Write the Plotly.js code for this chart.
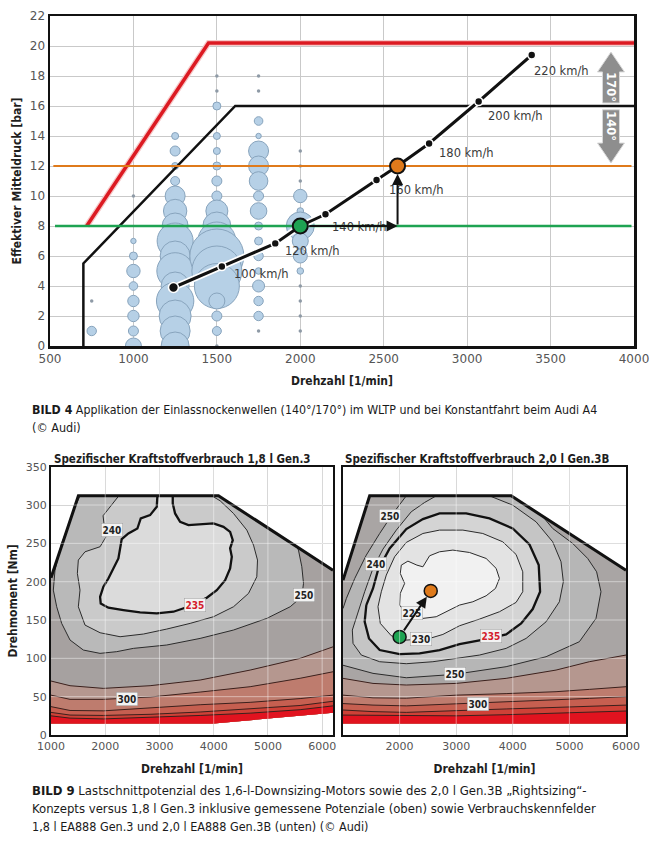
<!DOCTYPE html>
<html><head><meta charset="utf-8">
<script src="https://cdn.plot.ly/plotly-3.0.1.min.js"></script>
<style>html,body{margin:0;padding:0;background:#fff;}#chart{width:654px;height:844px;}</style>
</head><body><div id="chart"></div>
<script>
// ================= BILD 4 data =================
const bubbleRpm  = [750,
  1000,1000,1000,1000,1000,1000,1000,1000,
  1250,1250,1250,1250,1250,1250,1250,1250,1250,1250,1250,1250,1250,1250,1250,
  1500,1500,1500,1500,1500,1500,1500,1500,1500,1500,1500,1500,1500,1500,1500,
  1750,1750,1750,1750,1750,1750,1750,1750,1750,1750,1750,1750,1750,1750,
  2000,2000,2000,2000,2000,2000];
const bubbleBmep = [1,
  7,6,5,4,3,2,1,0,
  14,13,12,11,10,9,8,7,6,5,4,3,2,1,0,
  16,14,13,12,11,10,9,8,7,6,5,4,3,2,1,
  15,14,13,12,11,10,9,8,7,6,5,4,3,2,
  10,9,8,7,6,5];
const bubbleShare = [4.7,
  2.7,4,6.7,4.3,5.7,5.7,5,8,
  3.5,5,3.5,4.5,10,11.7,13,18,15,18.3,14,18.7,16,15,14,
  4,3.5,3.5,4,5,5,11,14,19,27,25,22.5,8,5,4.5,
  4.3,2.7,10,10,9.3,5,8.3,4,4,4.7,3.3,6,4.7,4.7,
  6.7,3.3,14,8,7,3.3];
const rareRpm  = [750,1000,1500,1500,1500,1750,1750,1750,2000,2000,2000,2000,2000,2000,2000];
const rareBmep = [3,10,18,17,0,18,17,1,13,12,11,4,3,2,1];

const fullLoad20Rpm  = [720,1450,4000];
const fullLoad20Bmep = [8,20.2,20.2];
const fullLoad18Rpm  = [700,700,1610,4000];
const fullLoad18Bmep = [0,5.5,16,16];
const camLimit170Rpm = [520,3985];
const camLimit170Bmep = [12,12];
const camLimit140Rpm = [530,3985];
const camLimit140Bmep = [8,8];

const roadLoadRpm  = [1240,1530,1850,2000,2151,2457,2583,2772,3069,3387];
const roadLoadBmep = [3.9,5.3,6.84,8,8.78,11.07,12,13.5,16.3,19.4];
const speedRpm  = [1530,2000,2151,2457,2772,3069,3387];
const speedBmep = [5.3,8,8.78,11.07,13.5,16.3,19.4];
const speedText = ['100 km/h','120 km/h','140 km/h','160 km/h','180 km/h','200 km/h','220 km/h'];
const pointGreen  = {rpm:2000, bmep:8};
const pointOrange = {rpm:2583, bmep:12};

// ================= BILD 9 data: 1,8 l Gen.3 =================
const g3FullRpm = [1000,1505,4088,6200];
const g3FullNm  = [205,312,312,215];
const g3MinRpm  = [1000,4000,6200];
const g3MinNm   = [15,15,29];
const g3c250Rpm = [1535,1443,1381,1289,1197,1135,1074,1043,1105,1197,1351,1597,1904,2212,2519,3134,3749,4364,4979,5410,5625,5656,5625,5563,5533];
const g3c250Nm  = [312,297.7,284.7,267.3,250,232.5,215.1,189,167.3,145.6,123.9,110.8,106.5,108.7,113,117.4,126,136.9,152.1,167.3,180.4,197.8,219.5,241.2,245.6];
const g3c240Rpm = [2250,2120,1960,1985,2015,1905,1627,1504,1486,1535,1504,1627,1905,2274,2704,3135,3566,3996,4365,4642,4795,4808,4734,4611,4365,4119,3965];
const g3c240Nm  = [312,300,286,271.6,258.6,245.6,239,228.2,210.8,189,167.3,143.4,133.4,128.2,131.7,138.2,145.6,154.3,167.3,184.7,206.4,228.2,247.7,267.3,289,305.5,312];
const g3c235Rpm = [2962,2950,2827,2655,2593,2427,2304,2274,2243,2150,2058,1966,1905,1917,2058,2335,2643,2950,3258,3473,3688,3873,4057,4211,4303,4334,4303,4352,4303,4180,3996,3750,3534,3381,3288,3245,3245];
const g3c235Nm  = [312,297.7,286.8,282.5,269.4,262.9,255.5,243.4,230.3,217.3,204.2,193.4,180.3,171.6,166,163,160,158.6,160.8,166,173,179,189,202,217.3,232.5,243.4,254.2,265,271.6,276,274.6,273.8,278,289,302,312];
const g3BandRpm = [1000,1351,1966,2827,3750,4672,5594,6200];
const g3Band260 = [70.4,64.3,60.8,64.3,71.7,84.7,100,115];
const g3Band300 = [52,46.5,46.5,49.5,56,63,74,82.5];
const g3Band350 = [37,32,31.5,35.5,39.5,42.6,47.5,52];
const g3Band400 = [29.5,26,25.5,27,30,34,38.5,44];
const g3Band500 = [25,22,21,23,25.5,28.5,33,38];

// ================= BILD 9 data: 2,0 l Gen.3B =================
const g3bFullRpm = [1000,1471,3971,6000];
const g3bFullNm  = [202,312,312,215];
const g3bMinRpm  = [1000,6000];
const g3bMinNm   = [15,15];
const g3bc250UpperRpm = [2118,1883,1648,1412,1207,1060,1000];
const g3bc250UpperNm  = [312,289,262.9,234.7,204.2,178.2,165];
const g3bc250LowerRpm = [1000,1530,2118,2971,3882,4588,5176,5470,5558,5481,5323,5058,4705,4529];
const g3bc250LowerNm  = [91,80.4,74.7,79.1,89.1,102.1,121.7,152.1,186.9,212.9,230.3,249.9,269.4,285];
const g3bc240Rpm = [2647,2441,2206,1942,1706,1530,1383,1265,1165,1177,1324,1648,2118,2588,2999,3412,3882,4235,4588,4823,4893,4852,4705,4411,4000,3588];
const g3bc240Nm  = [312,303.3,291.2,267.3,242.5,217.3,186.9,160.8,136.9,119.5,104.3,95.6,93,95.6,100,104.3,113,126,147.7,173.8,199.9,226,252,278.1,299.8,312];
const g3bc235Rpm = [1412,1530,1618,1824,2118,2412,2706,3176,3588,3999,4294,4458,4482,4352,4147,3882,3529,3059,2706,2353,2000,1648,1459,1383,1412];
const g3bc235Nm  = [169.5,191.2,215.1,243.4,268.6,281.6,289,289,282.5,269.4,248.6,221.6,186.9,164.3,145.6,131.2,125.1,118.6,110.8,106.5,105.6,110.8,126,147.7,169.5];
const g3bc230Rpm = [1677,1765,1912,2118,2412,2706,3118,3470,3823,4058,4176,4176,4058,3764,3412,3059,2765,2530,2118,1853,1659,1618,1677];
const g3bc230Nm  = [186.9,208.6,232.5,251.2,262.9,267.3,267.3,262.9,252,235.5,212.9,186.9,173,160.8,151.2,142.5,131.2,126,123.8,129.5,145.6,167.3,186.9];
const g3bc225Rpm = [2030,2147,2306,2412,2530,2706,2941,3235,3529,3706,3764,3694,3529,3294,3059,2824,2647,2412,2294,2089,2000,2012,2089,2012,2030];
const g3bc225Nm  = [221.6,226.8,221.6,219.4,233.8,239,241.2,238.1,230.3,217.3,204.2,191.2,181.6,173.8,169.5,160.8,154.3,152.1,157.3,160.8,169.5,184.7,197.7,210.8,221.6];
const g3bBandRpm = [1000,1530,2118,3000,3882,4764,5352,6000];
const g3bBand260 = [73.9,67.3,65.2,67.3,73.9,84.7,95.6,104.3];
const g3bBand300 = [52,48.5,48,52,54,56.5,59.5,63];
const g3bBand350 = [41,39,38,40.5,43,45.8,47.8,50];
const g3bBand400 = [32.6,30.5,29.5,32,34,36,37.5,39];
const g3bBand500 = [26,25.5,25,25,26.5,28.5,30,31.3];
const g3bGreen  = {rpm:2000, nm:128};
const g3bOrange = {rpm:2550, nm:188};

const xTicksTop = [500,1000,1500,2000,2500,3000,3500,4000];
const yTicksTop = [0,2,4,6,8,10,12,14,16,18,20,22];
const xTicksMap = [1000,2000,3000,4000,5000,6000];
const yTicksMap = [0,50,100,150,200,250,300,350];

// ================= styles =================
const NARROW = 'Liberation Sans Narrow, Arial Narrow, DejaVu Sans Condensed, sans-serif';
const TICKF = 'DejaVu Sans, Verdana, sans-serif';
const W = 654, H = 844;
const px = v => v / W, py = v => 1 - v / H;

const traces = [];
function add(t){ t.hoverinfo = 'skip'; t.showlegend = false; traces.push(t); }
function poly(xa, ya, ax, color){
  add({type:'scatter', mode:'lines', x:xa, y:ya, xaxis:ax[0], yaxis:ax[1], fill:'toself', fillcolor:color, line:{width:0}});
}
function line(xa, ya, ax, color, width){
  add({type:'scatter', mode:'lines', x:xa, y:ya, xaxis:ax[0], yaxis:ax[1], line:{color:color, width:width}, connectgaps:false});
}

// ---------- top chart ----------
const T = ['x','y'];
add({type:'scatter', mode:'markers', x:bubbleRpm, y:bubbleBmep, xaxis:'x', yaxis:'y',
  marker:{size:bubbleShare, sizemode:'diameter', sizeref:0.5, opacity:1, color:'#b6d0e6', line:{color:'#88a4bd', width:1}}});
add({type:'scatter', mode:'markers', x:rareRpm, y:rareBmep, xaxis:'x', yaxis:'y',
  marker:{size:3.5, opacity:1, color:'#8e9aa6'}});
line(fullLoad20Rpm, fullLoad20Bmep, T, '#f6c9c9', 6);
line(fullLoad20Rpm, fullLoad20Bmep, T, '#dc1a22', 3.5);
line(fullLoad18Rpm, fullLoad18Bmep, T, '#111111', 2.5);
line(camLimit170Rpm, camLimit170Bmep, T, '#df7a1b', 2);
line(camLimit140Rpm, camLimit140Bmep, T, '#1ea352', 2.5);
line(roadLoadRpm, roadLoadBmep, T, '#ffffff', 6.5);
line(roadLoadRpm, roadLoadBmep, T, '#111111', 3);
add({type:'scatter', mode:'markers', x:[roadLoadRpm[0], roadLoadRpm[2]].concat(speedRpm), y:[roadLoadBmep[0], roadLoadBmep[2]].concat(speedBmep), xaxis:'x', yaxis:'y',
  marker:{size:[10,8,8,8,8,8,8,8,8], opacity:1, color:'#111', line:{color:'#fff', width:1.6}}});
add({type:'scatter', mode:'markers', x:[pointGreen.rpm], y:[pointGreen.bmep], xaxis:'x', yaxis:'y',
  marker:{size:15, color:'#1ea352', line:{color:'#111', width:2}}});
add({type:'scatter', mode:'markers', x:[pointOrange.rpm], y:[pointOrange.bmep], xaxis:'x', yaxis:'y',
  marker:{size:15, color:'#df7a1b', line:{color:'#111', width:2}}});

// ---------- helper for maps ----------
function bandPoly(bx, by, minRpm, minNm){
  const xs = bx.slice(), ys = by.slice();
  for (let i = minRpm.length - 1; i >= 0; i--) { xs.push(minRpm[i]); ys.push(minNm[i]); }
  return [xs, ys];
}
function drawMap(ax, full, minl, regions, bandX, bands, bandColors, lines235, thinLines){
  const fx = [minl[0][0]].concat(full[0]).concat(minl[0].slice().reverse());
  const fy = [minl[1][0]].concat(full[1]).concat(minl[1].slice().reverse());
  poly(fx, fy, ax, regions.base);
  regions.list.forEach(r => poly(r[0], r[1], ax, r[2]));
  bands.forEach((b, i) => { const p = bandPoly(bandX, b, minl[0], minl[1]); poly(p[0], p[1], ax, bandColors[i]); });
  thinLines.forEach(l => line(l[0], l[1], ax, '#2b2b2b', 1));
  bands.forEach(b => line(bandX, b, ax, '#3b201c', 1));
  lines235.forEach(l => line(l[0], l[1], ax, '#111', 2.3));
  line(full[0], full[1], ax, '#111', 3);
}

// ---------- left map (1,8 l Gen.3) ----------
const L = ['x2','y2'];
const g3r250x = g3c250Rpm.concat([g3FullRpm[2]]), g3r250y = g3c250Nm.concat([g3FullNm[2]]);
drawMap(L, [g3FullRpm, g3FullNm], [g3MinRpm, g3MinNm],
  {base:'#a6a1a0', list:[[g3r250x, g3r250y, '#b9b9b9'], [g3c240Rpm, g3c240Nm, '#cacaca'], [g3c235Rpm, g3c235Nm, '#dbdbdb']]},
  g3BandRpm, [g3Band260, g3Band300, g3Band350, g3Band400, g3Band500],
  ['#b5978f','#be7c6e','#c65f50','#ce4137','#e1131f'],
  [[g3c235Rpm, g3c235Nm]],
  [[g3c250Rpm, g3c250Nm], [g3c240Rpm, g3c240Nm]]);

// ---------- right map (2,0 l Gen.3B) ----------
const R = ['x3','y3'];
const g3br250x = g3bc250UpperRpm.concat(g3bc250LowerRpm).concat([g3bFullRpm[2]]);
const g3br250y = g3bc250UpperNm.concat(g3bc250LowerNm).concat([g3bFullNm[2]]);
drawMap(R, [g3bFullRpm, g3bFullNm], [g3bMinRpm, g3bMinNm],
  {base:'#a9a5a4', list:[[g3br250x, g3br250y, '#b6b6b6'], [g3bc240Rpm, g3bc240Nm, '#c5c5c5'], [g3bc235Rpm, g3bc235Nm, '#d4d4d4'], [g3bc230Rpm, g3bc230Nm, '#e3e3e3'], [g3bc225Rpm, g3bc225Nm, '#f1f1f1']]},
  g3bBandRpm, [g3bBand260, g3bBand300, g3bBand350, g3bBand400, g3bBand500],
  ['#b5978f','#be7c6e','#c65f50','#ce4137','#e1131f'],
  [[g3bc235Rpm, g3bc235Nm]],
  [[g3bc250UpperRpm.concat([null]).concat(g3bc250LowerRpm), g3bc250UpperNm.concat([null]).concat(g3bc250LowerNm)],
   [g3bc240Rpm, g3bc240Nm], [g3bc230Rpm, g3bc230Nm], [g3bc225Rpm, g3bc225Nm]]);
add({type:'scatter', mode:'markers', x:[g3bGreen.rpm], y:[g3bGreen.nm], xaxis:'x3', yaxis:'y3',
  marker:{size:13, color:'#1ea352', line:{color:'#111', width:1.5}}});
add({type:'scatter', mode:'markers', x:[g3bOrange.rpm], y:[g3bOrange.nm], xaxis:'x3', yaxis:'y3',
  marker:{size:13, color:'#df7a1b', line:{color:'#111', width:1.5}}});

// ================= layout =================
const annotations = [];
const shapes = [];
function txt(o){ annotations.push(Object.assign({showarrow:false}, o)); }

// speed labels (offsets in px relative to their operating point)
const speedLabelShift = [[10,-7,'left'],[12,-25,'center'],[5,-13,'left'],[10,-10,'left'],[8,-10,'left'],[7,-15,'left'],[0,-16,'left']];
speedText.forEach((t, i) => txt({xref:'x', yref:'y', x:speedRpm[i], y:speedBmep[i], text:t, xanchor:speedLabelShift[i][2],
  xshift:speedLabelShift[i][0], yshift:speedLabelShift[i][1], font:{family:TICKF, size:11.5, color:'#3a3a3a'}}));
// arrows green -> orange
annotations.push({xref:'x', yref:'y', axref:'x', ayref:'y', x:pointOrange.rpm, y:pointGreen.bmep, ax:pointGreen.rpm + 45, ay:pointGreen.bmep,
  showarrow:true, arrowhead:2, arrowsize:1.1, arrowwidth:2, arrowcolor:'#111', standoff:0, text:''});
annotations.push({xref:'x', yref:'y', axref:'x', ayref:'y', x:pointOrange.rpm, y:pointOrange.bmep, ax:pointOrange.rpm, ay:pointGreen.bmep,
  showarrow:true, arrowhead:2, arrowsize:1.1, arrowwidth:2, arrowcolor:'#111', standoff:8, text:''});
// cam angle arrows
const camArrowX = 3862;
function camArrow(y0, yBase, yTip){
  const a = 51, b = 81;
  shapes.push({type:'path', xref:'x', yref:'y', layer:'above',
    path:`M${camArrowX-a},${y0} L${camArrowX-a},${yBase} L${camArrowX-b},${yBase} L${camArrowX},${yTip} L${camArrowX+b},${yBase} L${camArrowX+a},${yBase} L${camArrowX+a},${y0} Z`,
    fillcolor:'#8e8e8e', line:{color:'#d9d9d9', width:1}});
}
camArrow(16.2, 18.27, 19.6);
camArrow(15.75, 13.53, 12.2);
txt({xref:'x', yref:'y', x:camArrowX, y:17.25, text:'<b>170°</b>', textangle:90, font:{family:TICKF, size:11.5, color:'#fff'}});
txt({xref:'x', yref:'y', x:camArrowX, y:14.65, text:'<b>140°</b>', textangle:90, font:{family:TICKF, size:11.5, color:'#fff'}});

// map contour labels
function clabel(ax, x, y, t, red){
  txt({xref:ax[0], yref:ax[1], x:x, y:y, text:'<b>'+t+'</b>', bgcolor:'#f3f3f3', bordercolor:'#9a9a9a', borderwidth:0.5, borderpad:1,
    font:{family:NARROW, size:10, color: red ? '#d3202c' : '#222'}});
}
clabel(L, 2120, 267, '240'); clabel(L, 3657, 170, '235', true); clabel(L, 5656, 182.5, '250'); clabel(L, 2397, 47, '300');
clabel(R, 1824, 286, '250'); clabel(R, 1577, 222.5, '240'); clabel(R, 2224, 158.6, '225'); clabel(R, 2383, 125, '230');
clabel(R, 3617, 129.5, '235', true); clabel(R, 2970, 80, '250'); clabel(R, 3382, 41, '300');
annotations.push({xref:'x3', yref:'y3', axref:'x3', ayref:'y3', x:g3bOrange.rpm, y:g3bOrange.nm, ax:g3bGreen.rpm, ay:g3bGreen.nm,
  showarrow:true, arrowhead:2, arrowsize:1.1, arrowwidth:2, arrowcolor:'#111', standoff:7, startstandoff:6, text:''});

// white grid lines over the filled maps
[[L, [1000,6200]], [R, [1000,6000]]].forEach(([ax, xr]) => {
  xTicksMap.forEach(v => { if (v > xr[0] && v < xr[1]) shapes.push({type:'line', xref:ax[0], yref:ax[1], x0:v, x1:v, y0:0, y1:350, layer:'above', line:{color:'rgba(255,255,255,0.45)', width:1}}); });
  yTicksMap.forEach(v => { if (v > 0 && v < 350) shapes.push({type:'line', xref:ax[0], yref:ax[1], x0:xr[0], x1:xr[1], y0:v, y1:v, layer:'above', line:{color:'rgba(255,255,255,0.45)', width:1}}); });
});

// subplot titles and captions
txt({xref:'paper', yref:'paper', x:px(52), y:py(459), xanchor:'left', yanchor:'middle', text:'<b>Spezifischer Kraftstoffverbrauch 1,8 l Gen.3</b>', font:{family:NARROW, size:11.5, color:'#1e1e1e'}});
txt({xref:'paper', yref:'paper', x:px(343), y:py(459), xanchor:'left', yanchor:'middle', text:'<b>Spezifischer Kraftstoffverbrauch 2,0 l Gen.3B</b>', font:{family:NARROW, size:11.5, color:'#1e1e1e'}});
const capFont = {family:NARROW, size:12.5, color:'#1a1a1a'};
const capFontWide = {family:NARROW, size:13, color:'#1a1a1a'};
txt({xref:'paper', yref:'paper', x:px(30), y:py(410), xanchor:'left', yanchor:'middle', text:'<b>BILD 4</b> Applikation der Einlassnockenwellen (140°/170°) im WLTP und bei Konstantfahrt beim Audi A4', font:{family:NARROW, size:12.3, color:'#1a1a1a'}});
txt({xref:'paper', yref:'paper', x:px(30), y:py(427), xanchor:'left', yanchor:'middle', text:'(© Audi)', font:capFont});
txt({xref:'paper', yref:'paper', x:px(30), y:py(790), xanchor:'left', yanchor:'middle', text:'<b>BILD 9</b> Lastschnittpotenzial des 1,6-l-Downsizing-Motors sowie des 2,0 l Gen.3B „Rightsizing“-', font:capFontWide});
txt({xref:'paper', yref:'paper', x:px(30), y:py(808), xanchor:'left', yanchor:'middle', text:'Konzepts versus 1,8 l Gen.3 inklusive gemessene Potenziale (oben) sowie Verbrauchskennfelder', font:capFontWide});
txt({xref:'paper', yref:'paper', x:px(30), y:py(826), xanchor:'left', yanchor:'middle', text:'1,8 l EA888 Gen.3 und 2,0 l EA888 Gen.3B (unten) (© Audi)', font:capFont});

const titleFont = {family:NARROW, size:12, color:'#1e1e1e', weight:'bold'};
const axBase = {showgrid:true, gridcolor:'#c9c9c9', gridwidth:1, zeroline:false, showline:true, mirror:true, linecolor:'#111', ticks:'', fixedrange:true};
const layout = {
  width:W, height:H, margin:{l:0, r:0, t:0, b:0}, paper_bgcolor:'#fff', plot_bgcolor:'#fff', showlegend:false,
  annotations:annotations, shapes:shapes,
  xaxis: Object.assign({}, axBase, {domain:[px(50), px(634)], range:[500,4000], tickvals:xTicksTop, linewidth:2.5, anchor:'y',
    tickfont:{family:TICKF, size:12, color:'#555'},
    title:{text:'<b>Drehzahl [1/min]</b>', font:titleFont, standoff:12}}),
  yaxis: Object.assign({}, axBase, {domain:[py(346), py(16)], range:[0,22], tickvals:yTicksTop, linewidth:2.5, anchor:'x',
    tickfont:{family:TICKF, size:12, color:'#555'},
    title:{text:'<b>Effektiver Mitteldruck [bar]</b>', font:titleFont, standoff:6}}),
  xaxis2: Object.assign({}, axBase, {domain:[px(51), px(333)], range:[1000,6200], tickvals:xTicksMap, linewidth:2, anchor:'y2',
    tickfont:{family:TICKF, size:11, color:'#555'},
    title:{text:'<b>Drehzahl [1/min]</b>', font:titleFont, standoff:12}}),
  yaxis2: Object.assign({}, axBase, {domain:[py(735), py(466.7)], range:[0,350], tickvals:yTicksMap, linewidth:2, anchor:'x2',
    tickfont:{family:TICKF, size:11, color:'#555'},
    title:{text:'<b>Drehmoment [Nm]</b>', font:titleFont, standoff:6}}),
  xaxis3: Object.assign({}, axBase, {domain:[px(343), px(626)], range:[1000,6000], tickvals:xTicksMap.slice(1), linewidth:2, anchor:'y3',
    tickfont:{family:TICKF, size:11, color:'#555'},
    title:{text:'<b>Drehzahl [1/min]</b>', font:titleFont, standoff:12}}),
  yaxis3: Object.assign({}, axBase, {domain:[py(735), py(466.7)], range:[0,350], tickvals:yTicksMap, linewidth:2, anchor:'x3', showticklabels:false})
};
Plotly.newPlot('chart', traces, layout, {staticPlot:true, displayModeBar:false});
</script></body></html>
